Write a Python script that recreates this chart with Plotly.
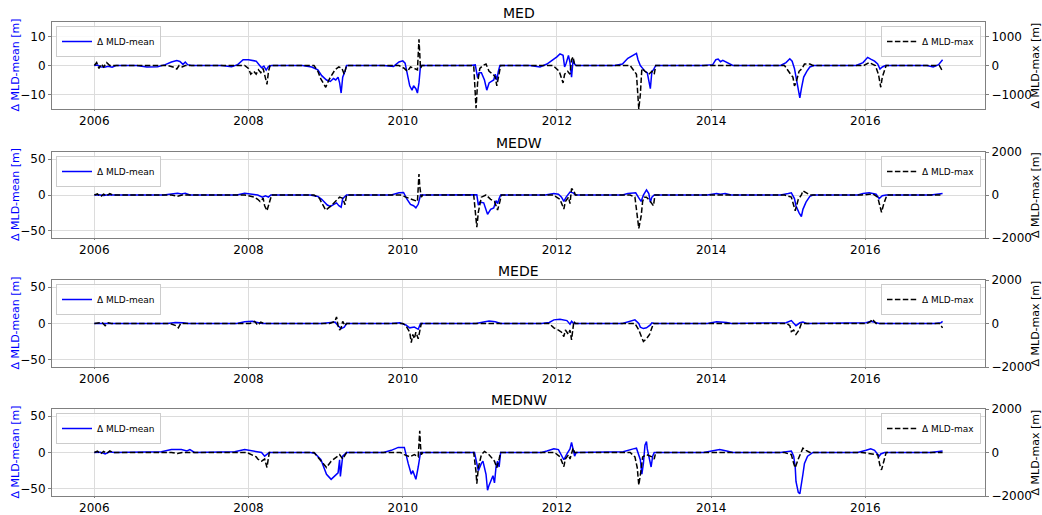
import numpy as np
import pandas as pd
import plotly.graph_objects as go

# ---------------------------------------------------------------------------
# Anomalies of mixed-layer depth (decimal year, value) per sub-basin
# mean in m (left axis), max in m (right axis)
# ---------------------------------------------------------------------------
MED_MEAN = [
    (2006.00, 0), (2006.04, 0.2), (2006.08, -0.4), (2006.13, -0.6), (2006.18, -0.3), (2006.23, -0.6), (2006.28, 0),
    (2006.55, 0), (2006.68, -0.5), (2006.82, -0.4), (2006.92, 0.3), (2007.00, 1.2), (2007.07, 1.7), (2007.11, 1.4),
    (2007.15, 0.4), (2007.18, 1.2), (2007.21, 0.3), (2007.26, 0),
    (2007.65, 0), (2007.78, -0.4), (2007.86, 0.3), (2007.93, 2.0), (2008.00, 2.0), (2008.06, 1.6), (2008.10, 1.5),
    (2008.14, 0.2), (2008.17, -0.8), (2008.20, -0.2), (2008.23, -1.6), (2008.26, -0.3), (2008.30, 0),
    (2008.70, 0), (2008.82, -0.5), (2008.90, -1.5), (2008.95, -3.5), (2009.01, -5.0), (2009.06, -5.5), (2009.10, -4.5),
    (2009.13, -5.0), (2009.16, -4.0), (2009.18, -6.0), (2009.20, -9.5), (2009.22, -4.0), (2009.25, -2.0), (2009.27, 0),
    (2009.75, 0), (2009.88, -0.3), (2009.95, 1.2), (2010.00, 1.6), (2010.03, 0.8), (2010.06, -3.0), (2010.09, -7.0),
    (2010.12, -8.5), (2010.14, -7.0), (2010.17, -8.0), (2010.19, -9.5), (2010.21, -6.0), (2010.23, 0),
    (2010.88, 0), (2010.94, 0.2), (2010.97, -4.2), (2010.99, -2.5), (2011.02, -2.5), (2011.06, -5.0), (2011.09, -8.5),
    (2011.12, -6.0), (2011.15, -5.5), (2011.18, -5.0), (2011.20, -3.0), (2011.22, -5.0), (2011.24, -2.0), (2011.26, 0),
    (2011.65, 0), (2011.78, -0.5), (2011.87, 0.5), (2011.95, 2.0), (2012.00, 3.0), (2012.04, 4.0), (2012.08, 3.5),
    (2012.10, -0.5), (2012.12, 0.8), (2012.15, 3.5), (2012.17, 1.0), (2012.19, -4.0), (2012.21, 2.0), (2012.23, 0.5), (2012.25, 0),
    (2012.75, 0), (2012.85, 0.5), (2012.92, 2.5), (2013.00, 3.8), (2013.03, 4.2), (2013.05, 2.0), (2013.08, 0),
    (2013.11, -1.0), (2013.14, -2.0), (2013.17, -2.5), (2013.19, -5.0), (2013.21, -8.0), (2013.23, -2.0), (2013.25, -1.5), (2013.28, 0),
    (2013.90, 0), (2014.02, 0.3), (2014.06, 2.0), (2014.09, 2.2), (2014.12, 1.3), (2014.15, 1.8), (2014.20, 1.0), (2014.28, 0),
    (2014.90, 0), (2014.97, 1.0), (2015.02, 2.3), (2015.05, 1.5), (2015.08, -1.0), (2015.10, -4.0), (2015.12, -7.0),
    (2015.15, -11.2), (2015.17, -8.0), (2015.20, -4.0), (2015.24, -2.0), (2015.28, -0.5), (2015.33, 0),
    (2015.88, 0), (2015.97, 1.0), (2016.03, 2.8), (2016.07, 2.2), (2016.12, 1.5), (2016.16, 0.5), (2016.19, -1.2),
    (2016.22, -0.5), (2016.26, 0),
    (2016.80, 0), (2016.88, -0.5), (2016.95, 0.3), (2017.00, 2.0),
]

MED_MAX = [
    (2006.00, 0), (2006.03, 100), (2006.06, -100), (2006.09, 50), (2006.12, -50), (2006.16, 100), (2006.20, 0),
    (2006.95, 0), (2007.02, -50), (2007.07, -120), (2007.10, 0), (2007.14, -50), (2007.18, 0),
    (2007.95, 0), (2008.00, -100), (2008.03, -300), (2008.07, -200), (2008.10, -300), (2008.13, -150), (2008.16, -250),
    (2008.19, -100), (2008.22, -400), (2008.24, -650), (2008.26, -200), (2008.28, 0),
    (2008.85, 0), (2008.90, -200), (2008.94, -470), (2009.00, -750), (2009.04, -500), (2009.08, -300), (2009.12, -150),
    (2009.17, -50), (2009.21, -100), (2009.24, -300), (2009.27, 0),
    (2009.95, 0), (2010.02, -100), (2010.06, -200), (2010.10, -50), (2010.15, -100), (2010.19, -150), (2010.21, 900),
    (2010.22, 500), (2010.23, -100), (2010.25, 0),
    (2010.92, 0), (2010.95, -1470), (2010.97, -600), (2011.00, -100), (2011.04, 0), (2011.08, 50), (2011.12, -200),
    (2011.17, -300), (2011.20, -400), (2011.22, -700), (2011.25, -300), (2011.27, 0),
    (2011.95, 0), (2012.03, -200), (2012.08, -600), (2012.10, -300), (2012.14, -200), (2012.17, -300), (2012.19, 200),
    (2012.21, 300), (2012.23, 0),
    (2012.95, 0), (2013.03, -300), (2013.06, -1500), (2013.08, -1000), (2013.10, -100), (2013.14, -200), (2013.19, -300),
    (2013.23, -200), (2013.26, -300), (2013.28, 0),
    (2014.95, 0), (2015.03, -300), (2015.06, -400), (2015.08, -700), (2015.10, -600), (2015.14, -200), (2015.18, -100),
    (2015.21, 50), (2015.28, 50), (2015.32, 0),
    (2015.98, 0), (2016.05, 100), (2016.13, 0), (2016.17, -300), (2016.20, -750), (2016.22, -400), (2016.24, -200), (2016.27, 0),
    (2016.96, 0), (2017.00, -200),
]

MEDW_MEAN = [
    (2006.00, 0), (2006.06, 0.5), (2006.12, -0.8), (2006.18, 0.5), (2006.25, 0),
    (2006.90, 0), (2007.00, 1.5), (2007.08, 2.5), (2007.13, 1.5), (2007.18, 2.5), (2007.24, 0),
    (2007.85, 0), (2007.95, 2.5), (2008.04, 1.5), (2008.12, 0), (2008.18, -3), (2008.22, -1), (2008.26, -3), (2008.29, 0),
    (2008.80, 0), (2008.90, -2), (2008.95, -6), (2009.02, -14), (2009.06, -16), (2009.10, -13), (2009.14, -11),
    (2009.17, -15), (2009.20, -17), (2009.22, -5), (2009.27, 0),
    (2009.85, 0), (2009.95, 3), (2010.01, 3.5), (2010.05, -5), (2010.10, -13), (2010.14, -15), (2010.17, -18),
    (2010.20, -13), (2010.23, 0),
    (2010.92, 0), (2010.96, 0.5), (2010.98, -14), (2011.00, -10), (2011.05, -11), (2011.10, -27), (2011.14, -20),
    (2011.18, -18), (2011.21, -8), (2011.23, -12), (2011.25, -5), (2011.27, 0),
    (2011.85, 0), (2011.96, 2), (2012.02, 1), (2012.06, -3), (2012.09, -9), (2012.12, -3), (2012.17, 4), (2012.21, 3), (2012.24, 0),
    (2012.85, 0), (2012.92, 2), (2013.02, 3), (2013.06, -4), (2013.09, -9), (2013.12, 0), (2013.16, 7), (2013.19, 2),
    (2013.21, -10), (2013.23, -3), (2013.26, 0),
    (2013.95, 0), (2014.07, 2), (2014.12, 1), (2014.18, 2), (2014.26, 0),
    (2014.90, 0), (2015.00, 2), (2015.04, 3), (2015.08, -5), (2015.10, -15), (2015.14, -25), (2015.17, -30),
    (2015.19, -20), (2015.23, -10), (2015.28, -2), (2015.32, 0),
    (2015.90, 0), (2015.97, 2), (2016.05, 3), (2016.14, 1), (2016.18, -5), (2016.22, -1), (2016.27, 0),
    (2016.85, 0), (2017.00, 2),
]

MEDW_MAX = [
    (2006.00, 0), (2006.04, 50), (2006.08, -80), (2006.12, 40), (2006.16, -40), (2006.20, 60), (2006.24, 0),
    (2007.00, 0), (2007.08, -60), (2007.14, 0),
    (2007.95, 0), (2008.05, -50), (2008.08, -100), (2008.12, -200), (2008.15, -300), (2008.19, -150), (2008.21, -500),
    (2008.24, -730), (2008.27, -300), (2008.30, 0),
    (2008.85, 0), (2008.92, -150), (2008.94, -300), (2009.00, -700), (2009.07, -500), (2009.13, -300), (2009.18, -100),
    (2009.22, -150), (2009.25, -450), (2009.27, 0),
    (2009.97, 0), (2010.04, -100), (2010.13, -200), (2010.19, -300), (2010.21, 975), (2010.22, 400), (2010.24, -100), (2010.26, 0),
    (2010.92, 0), (2010.96, -1500), (2010.98, -800), (2011.02, -100), (2011.08, 0), (2011.14, -200), (2011.19, -300),
    (2011.23, -700), (2011.26, -300), (2011.28, 0),
    (2011.95, 0), (2012.04, -200), (2012.09, -650), (2012.11, -300), (2012.15, -100), (2012.17, -400), (2012.19, 300),
    (2012.22, 200), (2012.24, 0),
    (2012.95, 0), (2013.01, -100), (2013.04, -900), (2013.06, -1550), (2013.09, -1000), (2013.11, -300), (2013.13, -100),
    (2013.16, -100), (2013.21, -300), (2013.25, -500), (2013.27, 0),
    (2014.95, 0), (2015.04, -100), (2015.07, -500), (2015.09, -730), (2015.13, -200), (2015.17, 0), (2015.19, 200),
    (2015.23, 100), (2015.28, 0),
    (2015.95, 0), (2016.10, 50), (2016.16, -100), (2016.19, -500), (2016.21, -800), (2016.24, -400), (2016.26, -200), (2016.28, 0),
    (2016.95, 0), (2017.00, 0),
]

MEDE_MEAN = [
    (2006.00, 0), (2006.10, 0.5), (2006.20, 0),
    (2006.95, 0), (2007.05, 1.5), (2007.15, 1), (2007.22, 0),
    (2007.85, 0), (2007.95, 2.5), (2008.05, 3), (2008.12, 1.5), (2008.18, 0),
    (2008.95, 0), (2009.05, 1), (2009.12, 2), (2009.16, -3), (2009.20, -7), (2009.24, -5), (2009.27, 0),
    (2009.85, 0), (2009.96, 1), (2010.04, -2), (2010.09, -6), (2010.15, -5), (2010.20, -8), (2010.23, 0),
    (2010.95, 0), (2011.05, 2), (2011.12, 3.5), (2011.20, 2.5), (2011.27, 0),
    (2011.80, 0), (2011.90, 1.5), (2011.96, 5), (2012.04, 6), (2012.13, 4), (2012.17, -1), (2012.19, 3), (2012.22, 0),
    (2012.85, 0), (2012.91, 2), (2013.01, 5), (2013.06, 0), (2013.08, -5), (2013.12, -7), (2013.16, -6), (2013.21, -2),
    (2013.23, 1), (2013.26, 0),
    (2013.95, 0), (2014.07, 2.5), (2014.14, 2), (2014.20, 1.5), (2014.26, 0),
    (2014.92, 0), (2014.97, 1), (2015.04, 4), (2015.08, 0), (2015.10, -3), (2015.15, 1), (2015.19, 2), (2015.24, 0),
    (2015.95, 0), (2016.01, 1), (2016.07, 3), (2016.14, 1), (2016.18, 0),
    (2016.90, 0), (2016.98, 1), (2017.00, 3),
]

MEDE_MAX = [
    (2006.00, 0), (2006.10, 50), (2006.14, -100), (2006.18, 30), (2006.22, 0),
    (2006.98, 0), (2007.06, -100), (2007.09, -200), (2007.12, 0),
    (2008.02, 0), (2008.08, 100), (2008.12, -80), (2008.16, 60), (2008.20, 0),
    (2009.05, 0), (2009.12, 100), (2009.14, 300), (2009.16, -100), (2009.18, -300), (2009.20, -200), (2009.22, 100),
    (2009.25, -100), (2009.27, 0),
    (2010.00, 0), (2010.04, -100), (2010.09, -400), (2010.11, -880), (2010.13, -500), (2010.15, -700), (2010.17, -400),
    (2010.20, -700), (2010.22, -300), (2010.24, 0),
    (2011.90, 0), (2011.96, -200), (2012.02, -300), (2012.06, -400), (2012.09, -600), (2012.11, -300), (2012.15, -500),
    (2012.17, -300), (2012.19, -750), (2012.22, 100), (2012.24, 0),
    (2013.01, 0), (2013.06, -300), (2013.09, -600), (2013.12, -830), (2013.16, -700), (2013.20, -500), (2013.23, -200), (2013.25, 0),
    (2014.98, 0), (2015.02, -100), (2015.04, -370), (2015.07, -300), (2015.10, -500), (2015.14, -300), (2015.17, 0),
    (2016.02, 0), (2016.07, 100), (2016.09, 200), (2016.14, 0),
    (2016.96, 0), (2017.00, -200),
]

MEDNW_MEAN = [
    (2006.00, 0), (2006.08, 0.5), (2006.14, -2), (2006.20, 1), (2006.26, 0),
    (2006.80, 0), (2006.87, 1), (2007.00, 4), (2007.13, 4), (2007.20, 2), (2007.24, 4), (2007.30, 0),
    (2007.75, 0), (2007.82, 1), (2007.95, 4), (2008.08, 2), (2008.17, 0), (2008.21, -5), (2008.25, -2), (2008.27, 0),
    (2008.80, 0), (2008.86, -1), (2008.94, -10), (2009.01, -30), (2009.07, -37), (2009.12, -32), (2009.14, -30),
    (2009.16, -28), (2009.18, -10), (2009.19, -33), (2009.22, -5), (2009.27, 0),
    (2009.75, 0), (2009.85, 3), (2009.94, 7), (2010.02, 7), (2010.07, -15), (2010.11, -30), (2010.13, -25),
    (2010.17, -37), (2010.20, -20), (2010.23, 0),
    (2010.93, 0), (2010.98, -25), (2011.02, -15), (2011.04, -12), (2011.08, -30), (2011.10, -52), (2011.12, -45),
    (2011.17, -32), (2011.19, -42), (2011.21, -20), (2011.23, -12), (2011.25, -20), (2011.27, 0),
    (2011.80, 0), (2011.87, 2), (2011.96, 5), (2012.02, 4), (2012.06, -5), (2012.09, -10), (2012.13, -2), (2012.17, 5),
    (2012.19, 14), (2012.22, 2), (2012.23, -5), (2012.25, 0),
    (2012.80, 0), (2012.86, 1), (2012.99, 5), (2013.03, 6), (2013.08, -10), (2013.10, -30), (2013.12, -15), (2013.14, 10),
    (2013.16, 15), (2013.17, 5), (2013.20, -10), (2013.22, -20), (2013.24, -5), (2013.26, 0),
    (2013.90, 0), (2014.03, 2), (2014.11, 4), (2014.20, 2), (2014.28, 0),
    (2014.90, 0), (2014.97, 1), (2015.04, 2), (2015.07, -5), (2015.09, -20), (2015.10, -40), (2015.13, -55),
    (2015.15, -57), (2015.17, -45), (2015.19, -30), (2015.21, -15), (2015.25, -5), (2015.32, 0),
    (2015.90, 0), (2016.01, 3), (2016.07, 5), (2016.12, 3), (2016.18, -5), (2016.20, -2), (2016.25, 0),
    (2016.85, 0), (2017.00, 2),
]

MEDNW_MAX = [
    (2006.00, 0), (2006.04, 60), (2006.08, -70), (2006.12, 50), (2006.16, -40), (2006.20, 70), (2006.24, 0),
    (2007.00, 0), (2007.08, -50), (2007.14, 0),
    (2007.98, 0), (2008.04, -100), (2008.10, -200), (2008.12, -300), (2008.17, -400), (2008.21, -300), (2008.24, -690), (2008.27, 0),
    (2008.85, 0), (2008.92, -300), (2009.01, -690), (2009.07, -400), (2009.14, -200), (2009.18, -100), (2009.22, -300),
    (2009.25, -100), (2009.27, 0),
    (2009.97, 0), (2010.02, -100), (2010.09, -200), (2010.15, -100), (2010.20, -200), (2010.22, 1000), (2010.23, 300),
    (2010.24, -100), (2010.26, 0),
    (2010.92, 0), (2010.95, -900), (2010.96, -1430), (2010.98, -700), (2011.02, -100), (2011.06, 50), (2011.12, -100),
    (2011.19, -400), (2011.22, -700), (2011.25, -300), (2011.27, 0),
    (2011.97, 0), (2012.04, -200), (2012.09, -650), (2012.11, -300), (2012.15, -100), (2012.17, -300), (2012.21, 200), (2012.23, 0),
    (2012.95, 0), (2013.01, -200), (2013.04, -700), (2013.06, -1500), (2013.09, -800), (2013.11, -200), (2013.16, -100),
    (2013.23, -200), (2013.26, -300), (2013.28, 0),
    (2014.95, 0), (2015.04, -100), (2015.07, -500), (2015.09, -700), (2015.13, -300), (2015.17, 0), (2015.19, 200),
    (2015.23, 100), (2015.28, 0),
    (2015.95, 0), (2016.16, -100), (2016.19, -600), (2016.21, -800), (2016.24, -400), (2016.27, 0),
    (2016.95, 0), (2017.00, 0),
]

REGIONS = ["MED", "MEDW", "MEDE", "MEDNW"]
MEAN_SERIES = [MED_MEAN, MEDW_MEAN, MEDE_MEAN, MEDNW_MEAN]
MAX_SERIES = [MED_MAX, MEDW_MAX, MEDE_MAX, MEDNW_MAX]
MEAN_RANGES = [(-15, 15), (-60, 60), (-60, 60), (-60, 60)]
MAX_RANGES = [(-1500, 1500), (-2000, 2000), (-2000, 2000), (-2000, 2000)]
MEAN_TICKS = [[-10, 0, 10], [-50, 0, 50], [-50, 0, 50], [-50, 0, 50]]
MAX_TICKS = [[-1000, 0, 1000], [-2000, 0, 2000], [-2000, 0, 2000], [-2000, 0, 2000]]
MEAN_LABEL = "Δ MLD-mean [m]"
MAX_LABEL = "Δ MLD-max [m]"


def to_dates(years):
    out = []
    for y in years:
        yr = int(np.floor(y))
        out.append(pd.Timestamp(year=yr, month=1, day=1) + pd.Timedelta(days=(y - yr) * 365.25))
    return out


W, H = 1042, 515
FONT = "DejaVu Sans"
SPINE = "#808080"
GRID = "#dcdcdc"
BLUE = "#0000ff"

# plot-area boxes in pixels (top, bottom) and shared left/right edges
X_LEFT, X_RIGHT = 52, 985
ROWS_PX = [(22, 109), (152, 238), (280, 367), (409, 496)]
X_RANGE = to_dates([2005.45, 2017.55])

fig = go.Figure()
layout = dict(
    width=W, height=H,
    margin=dict(l=0, r=0, t=0, b=0),
    paper_bgcolor="white", plot_bgcolor="white",
    font=dict(family=FONT, size=12, color="black"),
    showlegend=True,
    annotations=[],
)

xdom = [X_LEFT / W, X_RIGHT / W]

for i, region in enumerate(REGIONS):
    k = i + 1
    top, bot = ROWS_PX[i]
    ydom = [1 - bot / H, 1 - top / H]
    ymid = (ydom[0] + ydom[1]) / 2
    xname = "x" if k == 1 else f"x{k}"
    yl_idx, yr_idx = 2 * k - 1, 2 * k
    yl_name = "y" if yl_idx == 1 else f"y{yl_idx}"
    yr_name = f"y{yr_idx}"
    leg_l = "legend" if yl_idx == 1 else f"legend{yl_idx}"
    leg_r = f"legend{yr_idx}"

    mean_t, mean_v = zip(*MEAN_SERIES[i])
    max_t, max_v = zip(*MAX_SERIES[i])

    fig.add_trace(go.Scatter(
        x=to_dates(mean_t), y=list(mean_v), mode="lines",
        line=dict(color=BLUE, width=1.5),
        name="Δ MLD-mean", xaxis=xname, yaxis=yl_name, legend=leg_l, showlegend=True,
    ))
    fig.add_trace(go.Scatter(
        x=to_dates(max_t), y=list(max_v), mode="lines",
        line=dict(color="black", width=1.5, dash="5.5px,2.4px"),
        name="Δ MLD-max", xaxis=xname, yaxis=yr_name, legend=leg_r, showlegend=True,
    ))

    xkey = "xaxis" if k == 1 else f"xaxis{k}"
    layout[xkey] = dict(
        domain=xdom, anchor=yl_name, type="date", range=X_RANGE,
        tick0="2006-01-01", dtick="M24", tickformat="%Y",
        showgrid=True, gridcolor=GRID, gridwidth=1,
        showline=True, linecolor=SPINE, linewidth=1, mirror=True,
        ticks="outside", ticklen=1, tickcolor=SPINE,
        tickfont=dict(size=12), zeroline=False, automargin=False,
    )
    ylkey = "yaxis" if yl_idx == 1 else f"yaxis{yl_idx}"
    layout[ylkey] = dict(
        domain=ydom, anchor=xname, range=list(MEAN_RANGES[i]),
        tickvals=MEAN_TICKS[i],
        showgrid=True, gridcolor=GRID, gridwidth=1, zeroline=False,
        showline=True, linecolor=SPINE, linewidth=1, mirror=True,
        ticks="outside", ticklen=3, tickcolor=SPINE,
        tickfont=dict(size=12), automargin=False,
    )
    layout[f"yaxis{yr_idx}"] = dict(
        domain=ydom, anchor=xname, overlaying=yl_name, side="right",
        range=list(MAX_RANGES[i]), tickvals=MAX_TICKS[i],
        showgrid=False, zeroline=False,
        showline=True, linecolor=SPINE, linewidth=1,
        ticks="outside", ticklen=3, tickcolor=SPINE,
        tickfont=dict(size=12), automargin=False,
    )

    legend_style = dict(
        visible=True,
        bgcolor="rgba(255,255,255,0.85)", bordercolor="#cccccc", borderwidth=1,
        font=dict(size=9, family=FONT), yanchor="top",
        tracegroupgap=0, itemwidth=30,
    )
    layout[leg_l] = dict(legend_style, x=(X_LEFT + 4) / W, xanchor="left", y=1 - (top + 4) / H)
    layout[leg_r] = dict(legend_style, x=(X_RIGHT - 4) / W, xanchor="right", y=1 - (top + 4) / H)

    # panel title
    layout["annotations"].append(dict(
        text=region, x=(xdom[0] + xdom[1]) / 2, y=1 - (top - 9) / H,
        xref="paper", yref="paper", xanchor="center", yanchor="middle",
        showarrow=False, font=dict(size=14, family=FONT, color="black"),
    ))
    # left / right axis titles
    layout["annotations"].append(dict(
        text=MEAN_LABEL, x=15 / W, y=ymid, xref="paper", yref="paper",
        xanchor="center", yanchor="middle", textangle=-90, showarrow=False,
        font=dict(size=11, family=FONT, color=BLUE),
    ))
    layout["annotations"].append(dict(
        text=MAX_LABEL, x=1035 / W, y=ymid, xref="paper", yref="paper",
        xanchor="center", yanchor="middle", textangle=-90, showarrow=False,
        font=dict(size=11, family=FONT, color="black"),
    ))

fig.update_layout(**layout)
fig.write_html("out.html")
